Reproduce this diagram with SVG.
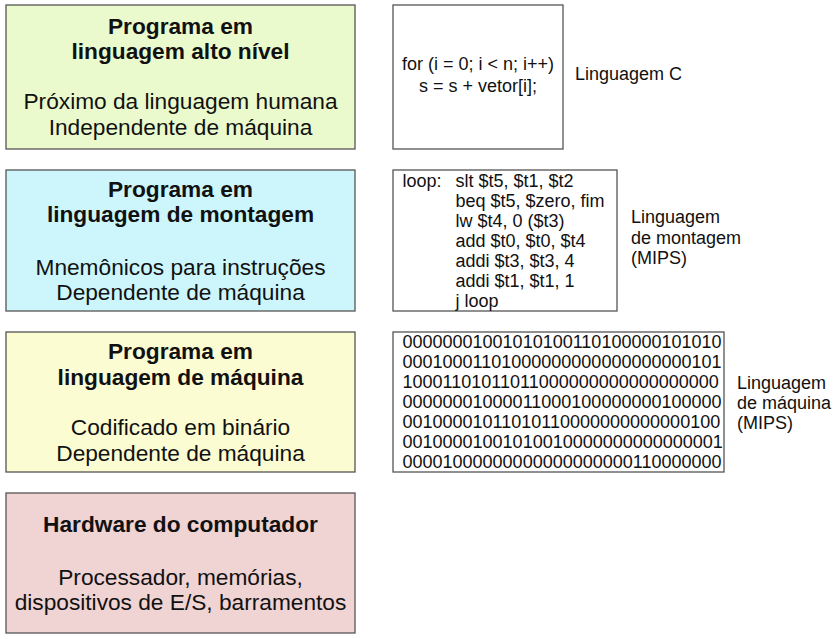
<svg xmlns="http://www.w3.org/2000/svg" width="838" height="639" viewBox="0 0 838 639">
<style>
  .box { stroke: #555; stroke-width: 1.3; }
  .code { fill: #fff; stroke: #555; stroke-width: 1.3; }
  .title { font-family: "Liberation Sans", Arial, sans-serif; font-size: 22.7px; font-weight: bold; fill: #111; text-anchor: middle; }
  .sub { font-family: "Liberation Sans", Arial, sans-serif; font-size: 22.7px; fill: #111; text-anchor: middle; }
  .mono { font-family: "Liberation Sans", Arial, sans-serif; font-size: 18px; fill: #111; }
  .lbl { font-family: "Liberation Sans", Arial, sans-serif; font-size: 18px; fill: #111; }
</style>
<rect width="838" height="639" fill="#fff"/>
<g id="alto-nivel">
  <rect class="box" x="6" y="5" width="349" height="144" fill="#ebfacd"/>
  <text class="title" x="180.5" y="34">Programa em</text>
  <text class="title" x="180.5" y="59">linguagem alto nível</text>
  <text class="sub" x="180.5" y="109">Próximo da linguagem humana</text>
  <text class="sub" x="180.5" y="135">Independente de máquina</text>
</g>
<g id="montagem">
  <rect class="box" x="6" y="170" width="349" height="141" fill="#cdf6fc"/>
  <text class="title" x="180.5" y="197">Programa em</text>
  <text class="title" x="180.5" y="222">linguagem de montagem</text>
  <text class="sub" x="180.5" y="275">Mnemônicos para instruções</text>
  <text class="sub" x="180.5" y="300">Dependente de máquina</text>
</g>
<g id="maquina">
  <rect class="box" x="6" y="332" width="349" height="140" fill="#fcfcd2"/>
  <text class="title" x="180.5" y="359">Programa em</text>
  <text class="title" x="180.5" y="385">linguagem de máquina</text>
  <text class="sub" x="180.5" y="435">Codificado em binário</text>
  <text class="sub" x="180.5" y="461">Dependente de máquina</text>
</g>
<g id="hardware">
  <rect class="box" x="6" y="493" width="349" height="140" fill="#f0d3d3"/>
  <text class="title" x="180.5" y="532">Hardware do computador</text>
  <text class="sub" x="180.5" y="585">Processador, memórias,</text>
  <text class="sub" x="180.5" y="610">dispositivos de E/S, barramentos</text>
</g>
<g id="codigo-c">
  <rect class="code" x="393" y="5" width="170" height="144"/>
  <text class="mono" x="478" y="70" text-anchor="middle">for (i = 0; i &lt; n; i++)</text>
  <text class="mono" x="478" y="92" text-anchor="middle">s = s + vetor[i];</text>
  <text class="lbl" x="575" y="79.5">Linguagem C</text>
</g>
<g id="codigo-montagem">
  <rect class="code" x="393" y="170" width="224" height="141"/>
  <text class="mono" x="402.5" y="187">loop:</text>
  <text class="mono" x="455.5" y="187">slt $t5, $t1, $t2</text>
  <text class="mono" x="455.5" y="207">beq $t5, $zero, fim</text>
  <text class="mono" x="455.5" y="227">lw $t4, 0 ($t3)</text>
  <text class="mono" x="455.5" y="247">add $t0, $t0, $t4</text>
  <text class="mono" x="455.5" y="267">addi $t3, $t3, 4</text>
  <text class="mono" x="455.5" y="287">addi $t1, $t1, 1</text>
  <text class="mono" x="455.5" y="306.5">j loop</text>
  <text class="lbl" x="631" y="223">Linguagem</text>
  <text class="lbl" x="631" y="244">de montagem</text>
  <text class="lbl" x="631" y="264">(MIPS)</text>
</g>
<g id="codigo-maquina">
  <rect class="code" x="393" y="332" width="331" height="140"/>
  <text class="mono" x="402.5" y="347.5">00000001001010100110100000101010</text>
  <text class="mono" x="402.5" y="367.5">00010001101000000000000000000101</text>
  <text class="mono" x="402.5" y="387.5">10001101011011000000000000000000</text>
  <text class="mono" x="402.5" y="407.5">00000001000011000100000000100000</text>
  <text class="mono" x="402.5" y="427.5">00100001011010110000000000000100</text>
  <text class="mono" x="402.5" y="447.5">00100001001010010000000000000001</text>
  <text class="mono" x="402.5" y="467.5">00001000000000000000000110000000</text>
  <text class="lbl" x="737" y="388.5">Linguagem</text>
  <text class="lbl" x="737" y="408.5">de máquina</text>
  <text class="lbl" x="737" y="428.5">(MIPS)</text>
</g>
<g id="connectors"></g>
</svg>
